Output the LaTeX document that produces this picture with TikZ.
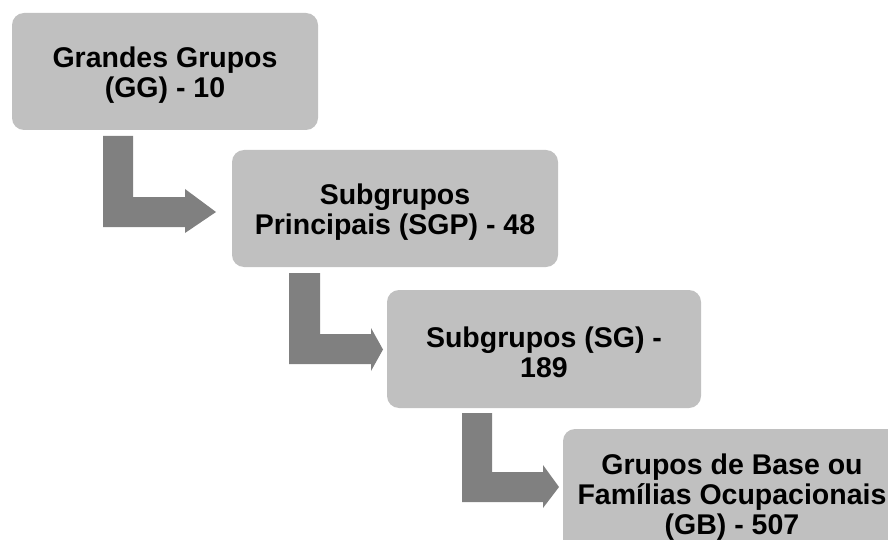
\documentclass[tikz,border=0pt]{standalone}
\usepackage{fontspec}
\setmainfont{Liberation Sans}
\definecolor{boxgray}{HTML}{C0C0C0}
\definecolor{arrowgray}{HTML}{808080}
\tikzset{
  levelbox/.style={fill=boxgray, draw=none, rounded corners=12pt, inner sep=0pt},
  leveltext/.style={align=center, inner sep=0pt, font=\fontsize{28.5}{30}\selectfont\bfseries},
  bentarrow/.style={fill=arrowgray, draw=none}
}
\begin{document}
\begin{tikzpicture}[x=1pt,y=-1pt]
\useasboundingbox (0,0) rectangle (888,540);
\clip (0,0) rectangle (888,540);
\node[levelbox, minimum width=306pt, minimum height=117pt] (gg) at (165,71.5) {};
\node[levelbox, minimum width=326pt, minimum height=117pt] (sgp) at (395,208.5) {};
\node[levelbox, minimum width=314pt, minimum height=118pt] (sg) at (544,349) {};
\node[levelbox, minimum width=338pt, minimum height=131pt] (gb) at (732,494.5) {};
\node[leveltext] (ggt) at ([yshift=-3.5pt]gg.center) {Grandes Grupos\\(GG) - 10};
\node[leveltext] (sgpt) at ([yshift=-3.5pt]sgp.center) {Subgrupos\\Principais (SGP) - 48};
\node[leveltext] (sgt) at ([yshift=-3.5pt]sg.center) {Subgrupos (SG) -\\189};
\node[leveltext] (gbt) at ([yshift=-3pt]gb.center) {Grupos de Base ou\\Famílias Ocupacionais\\(GB) - 507};
\fill[bentarrow] (103,136) -- (133,136) -- (133,197) -- (185,197) -- (185,189) -- (216,212) -- (185,233) -- (185,227) -- (103,227) -- cycle;
\fill[bentarrow] (289,273) -- (320,273) -- (320,334) -- (371,334) -- (371,328) -- (383,349.5) -- (371,371) -- (371,364) -- (289,364) -- cycle;
\fill[bentarrow] (462,413) -- (492,413) -- (492,472) -- (543,472) -- (543,465) -- (559,487) -- (543,508) -- (543,502) -- (462,502) -- cycle;
\end{tikzpicture}
\end{document}
